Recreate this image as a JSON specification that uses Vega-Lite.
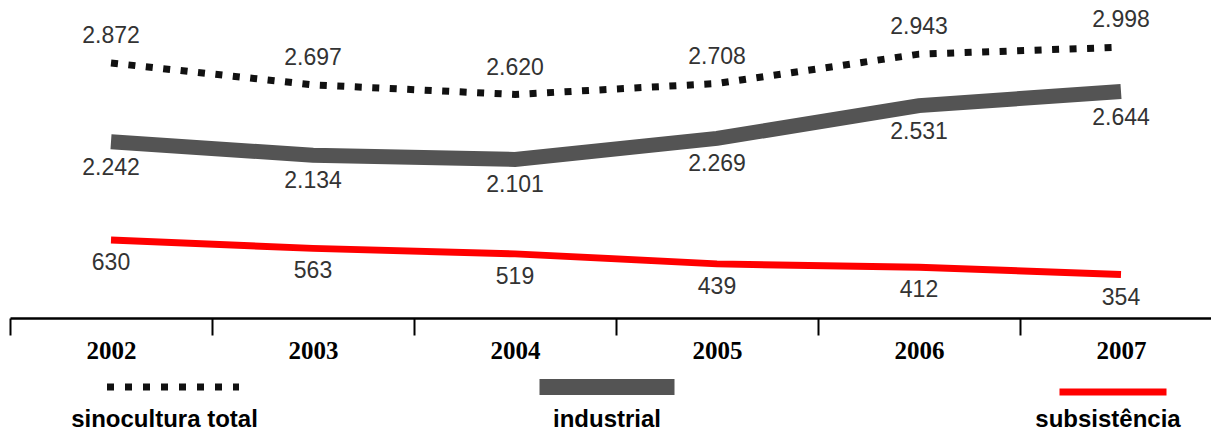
{
  "$schema": "https://vega.github.io/schema/vega-lite/v6.json",
  "width": 1201,
  "height": 318,
  "autosize": "none",
  "padding": {"left": 10, "top": 0, "right": 0, "bottom": 116},
  "background": "white",
  "config": {
    "view": {"stroke": null},
    "locale": {"number": {"decimal": ",", "thousands": ".", "grouping": [3], "currency": ["R$", ""]}}
  },
  "data": {
    "values": [
      {"ano": "2002", "serie": "sinocultura total", "valor": 2872},
      {"ano": "2003", "serie": "sinocultura total", "valor": 2697},
      {"ano": "2004", "serie": "sinocultura total", "valor": 2620},
      {"ano": "2005", "serie": "sinocultura total", "valor": 2708},
      {"ano": "2006", "serie": "sinocultura total", "valor": 2943},
      {"ano": "2007", "serie": "sinocultura total", "valor": 2998},
      {"ano": "2002", "serie": "industrial", "valor": 2242},
      {"ano": "2003", "serie": "industrial", "valor": 2134},
      {"ano": "2004", "serie": "industrial", "valor": 2101},
      {"ano": "2005", "serie": "industrial", "valor": 2269},
      {"ano": "2006", "serie": "industrial", "valor": 2531},
      {"ano": "2007", "serie": "industrial", "valor": 2644},
      {"ano": "2002", "serie": "subsistência", "valor": 630},
      {"ano": "2003", "serie": "subsistência", "valor": 563},
      {"ano": "2004", "serie": "subsistência", "valor": 519},
      {"ano": "2005", "serie": "subsistência", "valor": 439},
      {"ano": "2006", "serie": "subsistência", "valor": 412},
      {"ano": "2007", "serie": "subsistência", "valor": 354}
    ]
  },
  "encoding": {
    "x": {
      "field": "ano",
      "type": "ordinal",
      "bandPosition": 0.5,
      "scale": {"type": "band", "paddingInner": 0, "paddingOuter": 0, "range": [0, 1212]},
      "axis": {
        "title": null,
        "labelAngle": 0,
        "tickBand": "extent",
        "domainColor": "#000",
        "domainWidth": 2.5,
        "tickColor": "#000",
        "tickWidth": 2,
        "tickSize": 17,
        "labelFont": "Liberation Serif",
        "labelFontWeight": "bold",
        "labelFontSize": 25,
        "labelColor": "#000",
        "labelPadding": 3
      }
    },
    "y": {
      "field": "valor",
      "type": "quantitative",
      "scale": {"type": "linear", "domain": [300, 700, 2000, 3100], "range": [281.25, 231.25, 172, 34.5], "zero": false, "nice": false},
      "axis": null
    }
  },
  "layer": [
    {
      "transform": [{"filter": "datum.serie === 'sinocultura total'"}],
      "mark": {"type": "line", "strokeWidth": 7, "strokeDash": [7, 10.5], "strokeCap": "butt"},
      "encoding": {
        "color": {
          "field": "serie", "type": "nominal",
          "scale": {"range": ["#111111"]},
          "legend": {
            "title": null, "orient": "none", "legendX": 93.5, "legendY": 317.5, "padding": 0,
            "symbolType": "stroke", "symbolSize": 17424, "symbolStrokeWidth": 7, "symbolDash": [7, 11],
            "labelAlign": "center", "labelBaseline": "middle", "labelOffset": -78, "labelLimit": 0,
            "labelFont": "Liberation Sans", "labelFontWeight": "bold", "labelFontSize": 24, "labelColor": "#000",
            "encode": {"labels": {"update": {"dy": {"value": 33}}}}
          }
        }
      }
    },
    {
      "transform": [{"filter": "datum.serie === 'industrial'"}],
      "mark": {"type": "line", "strokeWidth": 15, "strokeCap": "butt"},
      "encoding": {
        "color": {
          "field": "serie", "type": "nominal",
          "scale": {"range": ["#545454"]},
          "legend": {
            "title": null, "orient": "none", "legendX": 521.5, "legendY": 311.5, "padding": 0,
            "symbolType": "stroke", "symbolSize": 18225, "symbolStrokeWidth": 16,
            "labelAlign": "center", "labelBaseline": "middle", "labelOffset": -75.5, "labelLimit": 0,
            "labelFont": "Liberation Sans", "labelFontWeight": "bold", "labelFontSize": 24, "labelColor": "#000",
            "encode": {"labels": {"update": {"dy": {"value": 33}}}}
          }
        }
      }
    },
    {
      "transform": [{"filter": "datum.serie === 'subsistência'"}],
      "mark": {"type": "line", "strokeWidth": 7, "strokeCap": "butt"},
      "encoding": {
        "color": {
          "field": "serie", "type": "nominal",
          "scale": {"range": ["#ff0000"]},
          "legend": {
            "title": null, "orient": "none", "legendX": 1046, "legendY": 335, "padding": 0,
            "symbolType": "stroke", "symbolSize": 11449, "symbolStrokeWidth": 7,
            "labelAlign": "center", "labelBaseline": "middle", "labelOffset": -62, "labelLimit": 0,
            "labelFont": "Liberation Sans", "labelFontWeight": "bold", "labelFontSize": 24, "labelColor": "#000",
            "encode": {"labels": {"update": {"dy": {"value": 28}}}}
          }
        }
      }
    },
    {
      "transform": [{"filter": "datum.serie === 'sinocultura total'"}],
      "mark": {"type": "text", "baseline": "middle", "dy": -27, "font": "Liberation Sans", "fontSize": 23, "color": "#333333"},
      "encoding": {"text": {"field": "valor", "type": "quantitative", "format": ",d"}}
    },
    {
      "transform": [{"filter": "datum.serie === 'industrial'"}],
      "mark": {"type": "text", "baseline": "middle", "dy": 26, "font": "Liberation Sans", "fontSize": 23, "color": "#333333"},
      "encoding": {"text": {"field": "valor", "type": "quantitative", "format": ",d"}}
    },
    {
      "transform": [{"filter": "datum.serie === 'subsistência'"}],
      "mark": {"type": "text", "baseline": "middle", "dy": 23, "font": "Liberation Sans", "fontSize": 23, "color": "#333333"},
      "encoding": {"text": {"field": "valor", "type": "quantitative", "format": ",d"}}
    }
  ],
  "resolve": {"scale": {"color": "independent"}, "legend": {"color": "independent"}}
}
